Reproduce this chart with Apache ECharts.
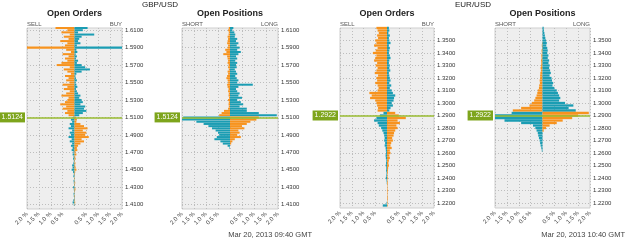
<!DOCTYPE html>
<html>
<head>
<meta charset="utf-8">
<script src="https://cdn.jsdelivr.net/npm/echarts@6/dist/echarts.min.js"></script>
<style>
  html, body { margin: 0; padding: 0; background: #fff; }
  #chart { width: 625px; height: 240px; }
</style>
</head>
<body>
<div id="chart"></div>
<script>
// price ladders (top to bottom)
const gbpPrices = [
  1.6125, 1.6100, 1.6075, 1.6050, 1.6025, 1.6000, 1.5975, 1.5950,
  1.5925, 1.5900, 1.5875, 1.5850, 1.5825, 1.5800, 1.5775, 1.5750,
  1.5725, 1.5700, 1.5675, 1.5650, 1.5625, 1.5600, 1.5575, 1.5550,
  1.5525, 1.5500, 1.5475, 1.5450, 1.5425, 1.5400, 1.5375, 1.5350,
  1.5325, 1.5300, 1.5275, 1.5250, 1.5225, 1.5200, 1.5175, 1.5150,
  1.5125, 1.5100, 1.5075, 1.5050, 1.5025, 1.5000, 1.4975, 1.4950,
  1.4925, 1.4900, 1.4875, 1.4850, 1.4825, 1.4800, 1.4775, 1.4750,
  1.4725, 1.4700, 1.4675, 1.4650, 1.4625, 1.4600, 1.4575, 1.4550,
  1.4525, 1.4500, 1.4475, 1.4450, 1.4425, 1.4400, 1.4375, 1.4350,
  1.4325, 1.4300, 1.4275, 1.4250, 1.4225, 1.4200, 1.4175, 1.4150,
  1.4125, 1.4100, 1.4075, 1.4050
];
const eurPrices = [
  1.360, 1.358, 1.356, 1.354, 1.352,
  1.350, 1.348, 1.346, 1.344, 1.342,
  1.340, 1.338, 1.336, 1.334, 1.332,
  1.330, 1.328, 1.326, 1.324, 1.322,
  1.320, 1.318, 1.316, 1.314, 1.312,
  1.310, 1.308, 1.306, 1.304, 1.302,
  1.300, 1.298, 1.296, 1.294, 1.292,
  1.290, 1.288, 1.286, 1.284, 1.282,
  1.280, 1.278, 1.276, 1.274, 1.272,
  1.270, 1.268, 1.266, 1.264, 1.262,
  1.260, 1.258, 1.256, 1.254, 1.252,
  1.250, 1.248, 1.246, 1.244, 1.242,
  1.240, 1.238, 1.236, 1.234, 1.232,
  1.230, 1.228, 1.226, 1.224, 1.222,
  1.220, 1.218, 1.216
];
const gbpTicks = ['1.6100', '1.5900', '1.5700', '1.5500', '1.5300', '1.5100',
  '1.4900', '1.4700', '1.4500', '1.4300', '1.4100'];
const eurTicks = ['1.3500', '1.3400', '1.3300', '1.3200', '1.3100', '1.3000',
  '1.2900', '1.2800', '1.2700', '1.2600', '1.2500', '1.2400', '1.2300', '1.2200'];

const gbpRate = 1.5124;
const eurRate = 1.2922;

// % of volume, left side (sell / short) and right side (buy / long)
const gbpOrdersSell = [
  0.8, 0.3, 0.55, 0.2, 0.45, 0.25, 0.6, 0.3, 0.4, 2.1, 0.35, 0.15,
  0.5, 0.25, 0.4, 0.3, 0.55, 0.75, 0.2, 0.45, 0.3, 0.15, 0.4, 0.25,
  0.35, 0.2, 0.5, 0.3, 0.45, 0.2, 0.35, 0.55, 0.25, 0.3, 0.4, 0.6,
  0.35, 0.5, 0.3, 0.4, 0.25, 0.05, 0.15, 0.1, 0.2, 0.15, 0.25, 0.1,
  0.2, 0.15, 0.25, 0.12, 0.2, 0.1, 0.15, 0.08, 0.12, 0.05, 0.08, 0.04,
  0.06, 0.03, 0.05, 0.1, 0.08, 0.12, 0.06, 0.03, 0.05, 0.02, 0.04, 0.03,
  0.02, 0.06, 0.03, 0.02, 0.04, 0.03, 0.02, 0.05, 0.08, 0.03, 0, 0
];
const gbpOrdersBuy = [
  0.55, 0.35, 0.15, 0.83, 0.3, 0.2, 0.15, 0.25, 0.1, 2.1, 0.08, 0.12,
  0.05, 0.1, 0.06, 0.15, 0.1, 0.3, 0.45, 0.65, 0.3, 0.08, 0.04, 0.06,
  0.1, 0.05, 0.08, 0.12, 0.06, 0.1, 0.15, 0.25, 0.2, 0.3, 0.35, 0.25,
  0.45, 0.4, 0.5, 0.35, 0.2, 0.05, 0.1, 0.08, 0.25, 0.4, 0.55, 0.35,
  0.5, 0.45, 0.6, 0.3, 0.4, 0.25, 0.15, 0.1, 0.12, 0.05, 0.08, 0.03,
  0.05, 0.02, 0.04, 0.03, 0.05, 0.08, 0.03, 0.02, 0.01, 0.02, 0.01, 0.03,
  0.02, 0.01, 0.04, 0.02, 0.01, 0.02, 0.01, 0.02, 0.03, 0.01, 0, 0
];
const gbpPosShort = [
  0.05, 0.08, 0.05, 0.06, 0.1, 0.08, 0.1, 0.12, 0.08, 0.1, 0.2, 0.15,
  0.28, 0.12, 0.1, 0.08, 0.1, 0.06, 0.08, 0.05, 0.1, 0.08, 0.12, 0.15,
  0.1, 0.08, 0.12, 0.1, 0.06, 0.08, 0.05, 0.06, 0.04, 0.08, 0.05, 0.06,
  0.05, 0.08, 0.25, 0.35, 0.45, 1.95, 2.05, 1.4, 1.1, 0.9, 0.75, 0.6,
  0.5, 0.45, 0.55, 0.65, 0.4, 0.3, 0.1, 0.02, 0, 0, 0, 0,
  0, 0, 0, 0, 0, 0, 0, 0, 0, 0, 0, 0,
  0, 0, 0, 0, 0, 0, 0, 0, 0, 0, 0, 0
];
const gbpPosLong = [
  0.14, 0.1, 0.18, 0.22, 0.2, 0.3, 0.25, 0.35, 0.28, 0.4, 0.3, 0.45,
  0.35, 0.25, 0.3, 0.22, 0.3, 0.25, 0.28, 0.2, 0.25, 0.3, 0.22, 0.28,
  0.35, 0.3, 0.95, 0.35, 0.25, 0.3, 0.4, 0.35, 0.5, 0.3, 0.45, 0.55,
  0.4, 0.7, 0.7, 1.2, 1.95, 1.2, 1.1, 0.85, 0.7, 0.5, 0.6, 0.35,
  0.4, 0.3, 0.45, 0.2, 0.1, 0.05, 0, 0, 0, 0, 0, 0,
  0, 0, 0, 0, 0, 0, 0, 0, 0, 0, 0, 0,
  0, 0, 0, 0, 0, 0, 0, 0, 0, 0, 0, 0
];
const eurOrdersSell = [
  0.45, 0.4, 0.35, 0.42, 0.38, 0.5, 0.45, 0.55, 0.4, 0.48,
  0.6, 0.45, 0.5, 0.55, 0.42, 0.48, 0.4, 0.45, 0.52, 0.38,
  0.45, 0.42, 0.5, 0.4, 0.36, 0.4, 0.75, 0.65, 0.72, 0.5,
  0.45, 0.42, 0.38, 0.4, 0.15, 0.3, 0.45, 0.55, 0.4, 0.35,
  0.25, 0.2, 0.15, 0.12, 0.1, 0.12, 0.08, 0.1, 0.06, 0.05,
  0.04, 0.06, 0.05, 0.03, 0.04, 0.05, 0.03, 0.04, 0.02, 0.03,
  0.05, 0.02, 0.01, 0, 0, 0, 0, 0, 0, 0,
  0.02, 0.18, 0
];
const eurOrdersBuy = [
  0.08, 0.1, 0.06, 0.12, 0.08, 0.1, 0.15, 0.08, 0.12, 0.1,
  0.08, 0.12, 0.15, 0.1, 0.08, 0.12, 0.1, 0.14, 0.08, 0.1,
  0.12, 0.15, 0.1, 0.18, 0.12, 0.2, 0.25, 0.35, 0.3, 0.28,
  0.2, 0.25, 0.15, 0.1, 0.35, 0.5, 0.8, 0.45, 0.55, 0.4,
  0.45, 0.35, 0.3, 0.28, 0.22, 0.25, 0.18, 0.15, 0.2, 0.12,
  0.15, 0.1, 0.12, 0.08, 0.06, 0.08, 0.05, 0.04, 0.03, 0.02,
  0.03, 0.02, 0.03, 0.02, 0.02, 0.03, 0.02, 0.02, 0.03, 0.02,
  0.02, 0.02, 0
];
const eurPosShort = [
  0, 0, 0, 0, 0, 0, 0.02, 0.03, 0.02, 0.04,
  0.03, 0.05, 0.04, 0.06, 0.05, 0.06, 0.08, 0.07, 0.09, 0.1,
  0.1, 0.12, 0.11, 0.14, 0.15, 0.2, 0.22, 0.25, 0.3, 0.35,
  0.45, 0.55, 0.9, 1.25, 1.3, 2.05, 2.0, 1.6, 0.9, 0.4,
  0.3, 0.25, 0.2, 0.18, 0.15, 0.12, 0.1, 0.08, 0.05, 0.03,
  0, 0, 0, 0, 0, 0, 0, 0, 0, 0,
  0, 0, 0, 0, 0, 0, 0, 0, 0, 0,
  0, 0, 0
];
const eurPosLong = [
  0.05, 0.06, 0.08, 0.1, 0.12, 0.15, 0.18, 0.16, 0.2, 0.22,
  0.2, 0.25, 0.22, 0.28, 0.25, 0.3, 0.28, 0.32, 0.35, 0.3,
  0.38, 0.4, 0.45, 0.42, 0.5, 0.6, 0.65, 0.7, 0.75, 0.7,
  0.95, 1.3, 1.1, 1.4, 1.95, 1.5, 1.25, 0.85, 0.6, 0.3,
  0.15, 0.05, 0, 0, 0, 0, 0, 0, 0, 0,
  0, 0, 0, 0, 0, 0, 0, 0, 0, 0,
  0, 0, 0, 0, 0, 0, 0, 0, 0, 0,
  0, 0, 0
];

const ORANGE = '#f7931e';
const TEAL = '#1b9db3';
const FONT = 'Arial, "Liberation Sans", sans-serif';

const panels = [
  { title: 'Open Orders', lTag: 'SELL', rTag: 'BUY', prices: gbpPrices, ticks: gbpTicks, rate: gbpRate,
    left: gbpOrdersSell, right: gbpOrdersBuy, x: 27, w: 95, top: 28, h: 181 },
  { title: 'Open Positions', lTag: 'SHORT', rTag: 'LONG', prices: gbpPrices, ticks: gbpTicks, rate: gbpRate,
    left: gbpPosShort, right: gbpPosLong, x: 182, w: 96, top: 28, h: 181 },
  { title: 'Open Orders', lTag: 'SELL', rTag: 'BUY', prices: eurPrices, ticks: eurTicks, rate: eurRate,
    left: eurOrdersSell, right: eurOrdersBuy, x: 340, w: 94, top: 28, h: 180 },
  { title: 'Open Positions', lTag: 'SHORT', rTag: 'LONG', prices: eurPrices, ticks: eurTicks, rate: eurRate,
    left: eurPosShort, right: eurPosLong, x: 495, w: 95, top: 28, h: 180 }
];

const option = {
  animation: false,
  textStyle: { fontFamily: FONT },
  grid: [], xAxis: [], yAxis: [], series: [],
  graphic: [
    { type: 'text', left: 142, top: 1, style: { text: 'GBP/USD', font: '8px ' + FONT, fill: '#222' } },
    { type: 'text', left: 455, top: 1, style: { text: 'EUR/USD', font: '8px ' + FONT, fill: '#222' } },
    { type: 'text', right: 313, top: 231, style: { text: 'Mar 20, 2013 09:40 GMT', font: '7.5px ' + FONT, fill: '#444' } },
    { type: 'text', right: 0, top: 231, style: { text: 'Mar 20, 2013 10:40 GMT', font: '7.5px ' + FONT, fill: '#444' } }
  ]
};

panels.forEach((p, k) => {
  const isTick = (idx, val) => p.ticks.indexOf(Number(val).toFixed(4)) >= 0;

  option.grid.push({
    left: p.x, top: p.top, width: p.w, height: p.h,
    show: true, backgroundColor: '#eeeeee', borderColor: '#cfcfcf', borderWidth: 1
  });
  option.xAxis.push({
    gridIndex: k, type: 'value', min: -2, max: 2, interval: 0.5,
    axisLine: { show: false }, axisTick: { show: false },
    splitLine: { lineStyle: { color: '#bdbdbd', type: [1, 2] } },
    axisLabel: {
      rotate: 45, fontSize: 6, color: '#444', margin: 4,
      formatter: v => (v === 0 ? '' : Math.abs(v).toFixed(1) + ' %')
    }
  });
  option.yAxis.push({
    gridIndex: k, type: 'category', data: p.prices, inverse: true, boundaryGap: false, position: 'right',
    axisLine: { show: false }, axisTick: { show: false },
    axisLabel: { interval: isTick, fontSize: 6, color: '#333', margin: 3, formatter: v => Number(v).toFixed(4) },
    splitLine: { show: true, interval: isTick, lineStyle: { color: '#bdbdbd', type: [1, 2] } }
  });
  // hidden value axis used to place the current rate line
  option.yAxis.push({
    gridIndex: k, type: 'value', show: false,
    min: p.prices[p.prices.length - 1], max: p.prices[0], splitLine: { show: false }
  });

  option.series.push({
    type: 'bar', xAxisIndex: k, yAxisIndex: 2 * k, silent: true,
    barGap: '-100%', barCategoryGap: '8%',
    data: p.left.map(v => -v),
    itemStyle: { color: c => (p.prices[c.dataIndex] > p.rate ? ORANGE : TEAL) }
  });
  option.series.push({
    type: 'bar', xAxisIndex: k, yAxisIndex: 2 * k, silent: true,
    barGap: '-100%', barCategoryGap: '8%',
    data: p.right,
    itemStyle: { color: c => (p.prices[c.dataIndex] > p.rate ? TEAL : ORANGE) }
  });
  option.series.push({
    type: 'line', xAxisIndex: k, yAxisIndex: 2 * k + 1, silent: true,
    data: [[0, p.rate]], symbol: 'none', lineStyle: { opacity: 0 },
    markLine: {
      silent: true, symbol: ['none', 'none'], animation: false,
      data: [
        {
          yAxis: p.rate, lineStyle: { color: '#98bb30', width: 1.5, type: 'solid' },
          label: {
            show: true, position: 'start', distance: 2, formatter: p.rate.toFixed(4),
            color: '#fff', backgroundColor: '#7ea51c', padding: [2, 2, 1, 2], fontSize: 7
          }
        }
      ]
    }
  });

  const mid = p.x + p.w / 2;
  option.graphic.push(
    { type: 'text', x: mid, y: 14, style: { text: p.title, font: 'bold 9px ' + FONT, fill: '#222', align: 'center', verticalAlign: 'middle' } },
    { type: 'text', x: p.x, y: 24, style: { text: p.lTag, font: '6px ' + FONT, fill: '#555', align: 'left', verticalAlign: 'middle' } },
    { type: 'text', x: p.x + p.w, y: 24, style: { text: p.rTag, font: '6px ' + FONT, fill: '#555', align: 'right', verticalAlign: 'middle' } }
  );
});

const chart = echarts.init(document.getElementById('chart'));
chart.setOption(option);
</script>
</body>
</html>
